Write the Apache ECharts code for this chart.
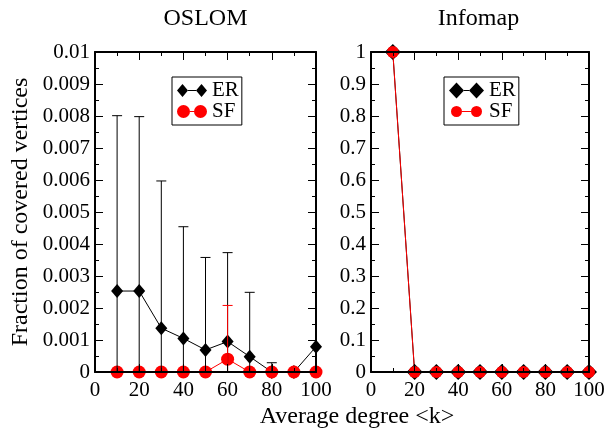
<!DOCTYPE html>
<html>
<head>
<meta charset="utf-8">
<script src="https://cdn.jsdelivr.net/npm/echarts@6/dist/echarts.min.js"></script>
<style>
  html, body { margin: 0; padding: 0; background: #fff; }
  #chart { width: 608px; height: 433px; }
</style>
</head>
<body>
<div id="chart"></div>
<script>
// Average degree <k> of the benchmark graphs
const degree = [10, 20, 30, 40, 50, 60, 70, 80, 90, 100];

// OSLOM: fraction of covered vertices (mean and standard deviation)
const oslomER    = [0.00253, 0.00253, 0.00137, 0.00105, 0.00069, 0.00095, 0.00048, 0, 0, 0.00079];
const oslomERErr = [0.00548, 0.00545, 0.00460, 0.00349, 0.00289, 0.00278, 0.00201, 0.00029, 0, 0];
const oslomSF    = [0, 0, 0, 0, 0, 0.00040, 0, 0, 0, 0];
const oslomSFErr = [0, 0, 0, 0, 0, 0.00168, 0, 0, 0, 0];

// Infomap: fraction of covered vertices
const infomapER = [1, 0, 0, 0, 0, 0, 0, 0, 0, 0];
const infomapSF = [1, 0, 0, 0, 0, 0, 0, 0, 0, 0];

// Tick labels
const xTicks = [0, 20, 40, 60, 80, 100];
const oslomTicks = [0, 0.001, 0.002, 0.003, 0.004, 0.005, 0.006, 0.007, 0.008, 0.009, 0.01];
const infomapTicks = [0, 0.1, 0.2, 0.3, 0.4, 0.5, 0.6, 0.7, 0.8, 0.9, 1];

const FONT = 'Liberation Serif';
const BLACK = '#000000';
const RED = '#ff0000';

const chart = echarts.init(document.getElementById('chart'), null, { renderer: 'canvas' });

const pts = (ys) => degree.map((d, i) => [d, ys[i]]);
const errPts = (ys, es) => degree.map((d, i) => [d, ys[i], es[i]]);
const fmt = (v) => String(+(+v).toFixed(4));

// Frame axes are drawn above the data, ticks pointing inward
function tickAxis(extra) {
  return Object.assign({
    z: 10,
    axisLine: { show: true, onZero: false, lineStyle: { color: BLACK, width: 2 } },
    axisTick: { show: true, inside: true, length: 8, lineStyle: { color: BLACK, width: 1 } },
    minorTick: { show: true, splitNumber: 2, length: 4, lineStyle: { color: BLACK, width: 1 } },
    splitLine: { show: false },
    minorSplitLine: { show: false },
    axisLabel: { show: false }
  }, extra);
}

function xAxisPair(gridIndex) {
  const base = { type: 'value', gridIndex, min: xTicks[0], max: xTicks[xTicks.length - 1], interval: xTicks[1] - xTicks[0] };
  return [
    tickAxis(Object.assign({}, base, {
      position: 'bottom',
      axisLabel: { show: true, margin: 8, fontFamily: FONT, fontSize: 21, color: BLACK, formatter: fmt }
    })),
    tickAxis(Object.assign({}, base, { position: 'top' }))
  ];
}

function yAxisPair(gridIndex, ticks, extraLeft) {
  const base = { type: 'value', gridIndex, min: ticks[0], max: ticks[ticks.length - 1], interval: ticks[1] - ticks[0] };
  return [
    tickAxis(Object.assign({}, base, {
      position: 'left',
      axisLabel: { show: true, margin: 5, fontFamily: FONT, fontSize: 21, color: BLACK, formatter: fmt }
    }, extraLeft || {})),
    tickAxis(Object.assign({}, base, { position: 'right' }))
  ];
}

// Error bars drawn as vertical segments with caps
function errorBars(name, data, color, xi, yi) {
  return {
    type: 'custom',
    name: name,
    xAxisIndex: xi,
    yAxisIndex: yi,
    z: 5,
    silent: true,
    data: data,
    renderItem: function (params, api) {
      const x = api.value(0), y = api.value(1), e = api.value(2);
      if (!(e > 0)) return null;
      const lo = Math.max(0, y - e), hi = y + e;
      const pHi = api.coord([x, hi]);
      const pLo = api.coord([x, lo]);
      const cap = 5;
      const children = [
        { type: 'line', shape: { x1: pHi[0], y1: pHi[1], x2: pLo[0], y2: pLo[1] }, style: { stroke: color, lineWidth: 1 } },
        { type: 'line', shape: { x1: pHi[0] - cap, y1: pHi[1], x2: pHi[0] + cap, y2: pHi[1] }, style: { stroke: color, lineWidth: 1 } }
      ];
      if (y - e > 0) {
        children.push({ type: 'line', shape: { x1: pLo[0] - cap, y1: pLo[1], x2: pLo[0] + cap, y2: pLo[1] }, style: { stroke: color, lineWidth: 1 } });
      }
      return { type: 'group', children: children };
    }
  };
}

function lineSeries(name, data, color, symbol, size, xi, yi, z) {
  return {
    type: 'line',
    name: name,
    xAxisIndex: xi,
    yAxisIndex: yi,
    data: data,
    clip: false,
    z: z,
    symbol: symbol,
    symbolSize: size,
    showSymbol: true,
    showAllSymbol: true,
    lineStyle: { color: color, width: 1 },
    itemStyle: { color: color, borderWidth: 0 },
    emphasis: { disabled: true }
  };
}

// Legend glyphs: two markers joined by a short line
const erIconSmall = 'path://M0,6.5 L5.5,0 L11,6.5 L5.5,13 Z M11,6 L19,6 L19,7 L11,7 Z M19,6.5 L24.5,0 L30,6.5 L24.5,13 Z';
const sfIconSmall = 'path://M0,6.5 A6.5,6.5 0 1,1 13,6.5 A6.5,6.5 0 1,1 0,6.5 Z M13,6 L17,6 L17,7 L13,7 Z M17,6.5 A6.5,6.5 0 1,1 30,6.5 A6.5,6.5 0 1,1 17,6.5 Z';
const erIconLarge = 'path://M0,8 L7.5,0 L15,8 L7.5,16 Z M15,7.5 L20,7.5 L20,8.5 L15,8.5 Z M20,8 L27.5,0 L35,8 L27.5,16 Z';
const sfIconLarge = 'path://M0,0 M35,16 M2,8 A5.5,5.5 0 1,1 13,8 A5.5,5.5 0 1,1 2,8 Z M13,7.5 L22,7.5 L22,8.5 L13,8.5 Z M22,8 A5.5,5.5 0 1,1 33,8 A5.5,5.5 0 1,1 22,8 Z';

const legendBase = {
  orient: 'vertical',
  itemGap: 0,
  borderColor: BLACK,
  borderWidth: 1,
  padding: [3, 3, 3, 5],
  selectedMode: false,
  textStyle: { fontFamily: FONT, fontSize: 21, color: BLACK, lineHeight: 17 },
  itemStyle: { borderWidth: 0 }
};

const titleStyle = { font: '24px "' + FONT + '"', fill: BLACK, textAlign: 'center', textVerticalAlign: 'top' };

const option = {
  animation: false,
  backgroundColor: '#ffffff',
  grid: [
    { left: 95, top: 52, width: 221, height: 320 },
    { left: 371, top: 52, width: 218, height: 320 }
  ],
  xAxis: [].concat(xAxisPair(0), xAxisPair(1)),
  yAxis: [].concat(
    yAxisPair(0, oslomTicks, {
      name: 'Fraction of covered vertices',
      nameLocation: 'middle',
      nameGap: 62,
      nameTextStyle: { fontFamily: FONT, fontSize: 24, color: BLACK }
    }),
    yAxisPair(1, infomapTicks)
  ),
  legend: [
    Object.assign({}, legendBase, {
      left: 172, top: 77, itemWidth: 30, itemHeight: 13,
      data: [{ name: 'ER', icon: erIconSmall }, { name: 'SF', icon: sfIconSmall }]
    }),
    Object.assign({}, legendBase, {
      left: 444, top: 77, itemWidth: 35, itemHeight: 16,
      data: [{ name: 'ER', icon: erIconLarge }, { name: 'SF', icon: sfIconLarge }]
    })
  ],
  graphic: [
    { type: 'text', x: 205.5, y: 7, style: Object.assign({ text: 'OSLOM' }, titleStyle) },
    { type: 'text', x: 478.5, y: 7, style: Object.assign({ text: 'Infomap' }, titleStyle) },
    { type: 'text', x: 357, y: 405, style: Object.assign({ text: 'Average degree <k>' }, titleStyle) }
  ],
  series: [
    errorBars('ER error', errPts(oslomER, oslomERErr), BLACK, 0, 0),
    errorBars('SF error', errPts(oslomSF, oslomSFErr), RED, 0, 0),
    lineSeries('ER', pts(oslomER), BLACK, 'diamond', [12, 14], 0, 0, 3),
    lineSeries('SF', pts(oslomSF), RED, 'circle', 13, 0, 0, 4),
    lineSeries('ER', pts(infomapER), BLACK, 'diamond', 16, 2, 2, 3),
    lineSeries('SF', pts(infomapSF), RED, 'circle', 12, 2, 2, 4)
  ]
};

chart.setOption(option);
</script>
</body>
</html>
